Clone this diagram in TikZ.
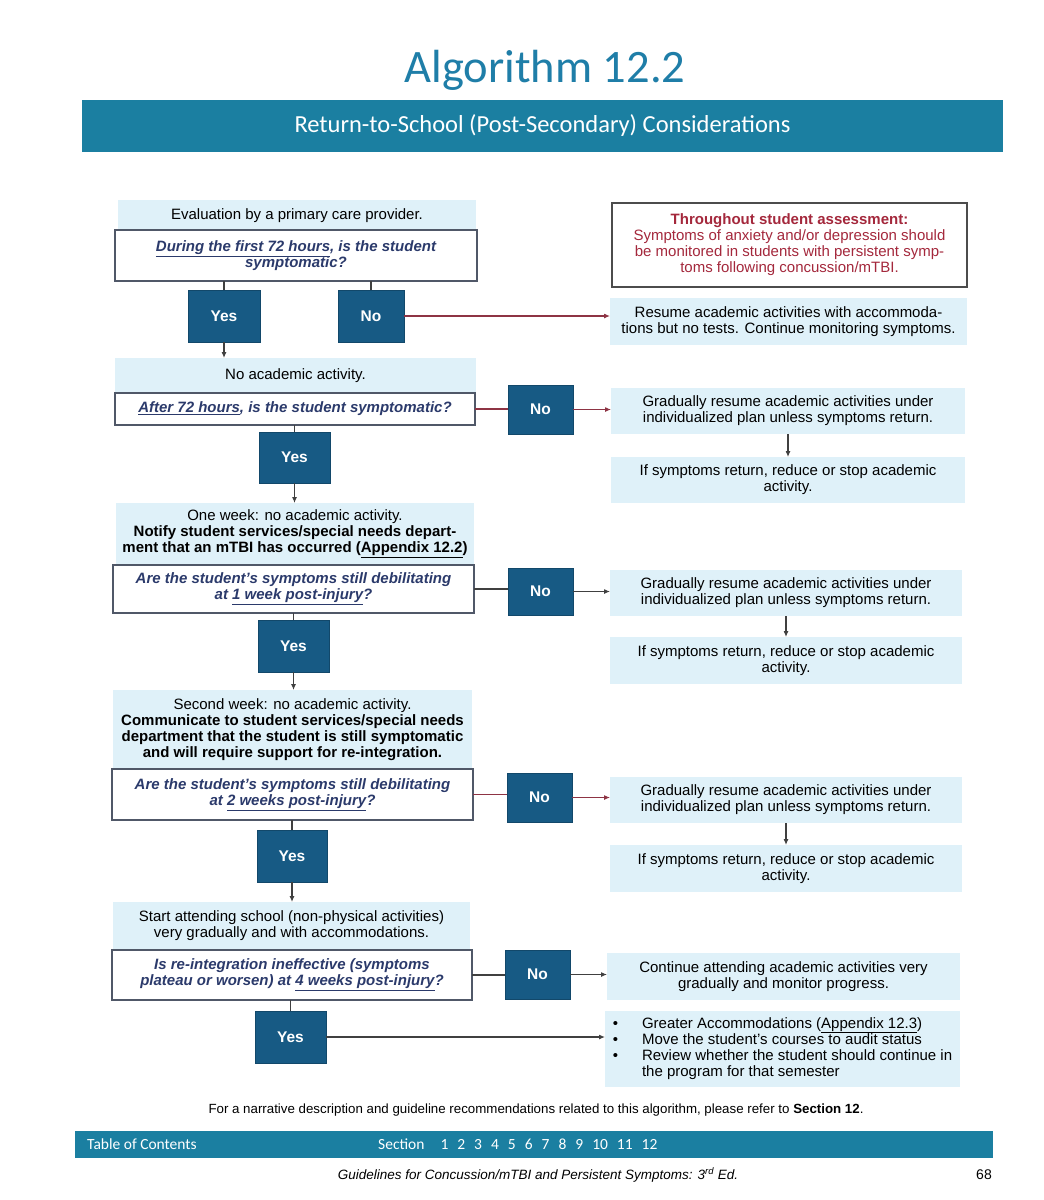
\documentclass[tikz,border=0pt]{standalone}
\usepackage{fontspec}
\setmainfont{Liberation Sans}
\newfontfamily\calfont{Carlito}
\usetikzlibrary{arrows.meta}
\definecolor{barteal}{HTML}{1B7FA1}
\definecolor{titleblue}{HTML}{1F7EA8}
\definecolor{ynblue}{HTML}{175A84}
\definecolor{lightfill}{HTML}{DFF1F9}
\definecolor{qnavy}{HTML}{2B3A6B}
\definecolor{qborder}{HTML}{505868}
\definecolor{redtext}{HTML}{A4283C}
\definecolor{lngray}{HTML}{404040}
\definecolor{lnred}{HTML}{8E3444}
\newcommand\bx[7]{\node[#2,minimum width={(#5-#3)*1pt},minimum height={(#6-#4)*1pt}] (#1) at ({(#3+#5)/2},{(#4+#6)/2}) {#7};}
\tikzset{
  base/.style={inner sep=0pt,outer sep=0pt,align=center,font=\fontsize{15}{16}\selectfont},
  lightbox/.style={base,fill=lightfill},
  qbox/.style={base,fill=white,draw=qborder,line width=1.5pt,text=qnavy,font=\fontsize{15}{16}\selectfont\bfseries\itshape},
  yn/.style={base,fill=ynblue,draw=ynblue!80!black,line width=0.8pt,text=white,font=\fontsize{15.5}{17}\selectfont\bfseries},
  rbox/.style={base,fill=lightfill},
  redbox/.style={base,fill=white,draw=black!70,line width=2pt,text=redtext},
  barbox/.style={inner sep=0pt,outer sep=0pt,fill=barteal,text=white},
  ln/.style={draw=lngray,line width=1.1pt},
  arr/.style={ln,-{Latex[length=6pt,width=5pt]}},
  redarr/.style={draw=lnred,line width=1.1pt,-{Latex[length=6pt,width=5pt]}},
  redln/.style={draw=lnred,line width=1.1pt},
}
\begin{document}
\begin{tikzpicture}[x=1pt,y=-1pt]
\useasboundingbox[fill=white] (0,0) rectangle (1044,1200);
% title and header
\node[inner sep=0pt,text=titleblue,font=\calfont\fontsize{46.5}{50}\selectfont] (title) at (545,70) {Algorithm 12.2};
\bx{bar}{barbox,font=\calfont\fontsize{24.5}{26}\selectfont}{82}{100}{1003}{152}{Return-to-School (Post-Secondary) Considerations}
% row 1
\bx{l1}{lightbox}{118}{200}{476}{232}{Evaluation by a primary care provider.}
\bx{q1}{qbox}{115}{230}{477}{281}{\underline{During the first 72 hours}, is the student\\symptomatic?}
\bx{y1}{yn}{188}{290}{260}{342}{Yes}
\bx{n1}{yn}{338}{290}{404}{342}{No}
\bx{red}{redbox}{612}{203}{967}{287}{\textbf{Throughout student assessment:}\\Symptoms of anxiety and/or depression should\\be monitored in students with persistent symp-\\toms following concussion/mTBI.}
\bx{r1}{rbox}{610}{298}{967}{345}{Resume academic activities with accommoda-\\tions but no tests. Continue monitoring symptoms.}
% row 2
\bx{l2}{lightbox}{115}{358}{476}{393}{No academic activity.}
\bx{q2}{qbox}{115}{393}{475}{425}{\underline{After 72 hours}, is the student symptomatic?}
\bx{n2}{yn}{508}{385}{573}{434}{No}
\bx{y2}{yn}{259}{432}{330}{483}{Yes}
\bx{r2a}{rbox}{611}{388}{965}{434}{Gradually resume academic activities under\\individualized plan unless symptoms return.}
\bx{r2b}{rbox}{611}{457}{965}{503}{If symptoms return, reduce or stop academic\\activity.}
% row 3
\bx{l3}{lightbox}{116}{503}{474}{565}{One week: no academic activity.\\\textbf{Notify student services/special needs depart-}\\\textbf{ment that an mTBI has occurred (\underline{Appendix 12.2})}}
\bx{q3}{qbox}{113}{565}{474}{613}{Are the student's symptoms still debilitating\\at \underline{1 week post-injury}?}
\bx{n3}{yn}{508}{568}{573}{615}{No}
\bx{y3}{yn}{258}{620}{329}{672}{Yes}
\bx{r3a}{rbox}{610}{570}{962}{616}{Gradually resume academic activities under\\individualized plan unless symptoms return.}
\bx{r3b}{rbox}{610}{637}{962}{684}{If symptoms return, reduce or stop academic\\activity.}
% row 4
\bx{l4}{lightbox}{113}{690}{472}{769}{Second week: no academic activity.\\\textbf{Communicate to student services/special needs}\\\textbf{department that the student is still symptomatic}\\\textbf{and will require support for re-integration.}}
\bx{q4}{qbox}{112}{769}{473}{820}{Are the student's symptoms still debilitating\\at \underline{2 weeks post-injury}?}
\bx{n4}{yn}{507}{773}{572}{822}{No}
\bx{y4}{yn}{257}{830}{327}{882}{Yes}
\bx{r4a}{rbox}{610}{777}{962}{823}{Gradually resume academic activities under\\individualized plan unless symptoms return.}
\bx{r4b}{rbox}{610}{845}{962}{892}{If symptoms return, reduce or stop academic\\activity.}
% row 5
\bx{l5}{lightbox}{113}{902}{470}{950}{Start attending school (non-physical activities)\\very gradually and with accommodations.}
\bx{q5}{qbox}{112}{950}{472}{1000}{Is re-integration ineffective (symptoms\\plateau or worsen) at \underline{4 weeks post-injury}?}
\bx{n5}{yn}{505}{950}{570}{999}{No}
\bx{y5}{yn}{255}{1011}{326}{1063}{Yes}
\bx{r5a}{rbox}{607}{953}{960}{1000}{Continue attending academic activities very\\gradually and monitor progress.}
\bx{r5b}{rbox}{605}{1011}{960}{1087}{\begin{tabular}{@{}l@{\hspace{24pt}}l@{}}\textbullet & Greater Accommodations (\underline{Appendix 12.3})\\ \textbullet & Move the student's courses to audit status\\ \textbullet & Review whether the student should continue in\\ & the program for that semester\end{tabular}}
% connectors row 1
\draw[ln] (q1.south -| y1.north) -- (y1.north);
\draw[ln] (q1.south -| n1.north) -- (n1.north);
\draw[arr] (y1.south) -- (y1.south |- l2.north);
\draw[redarr] (n1.east) -- (n1.east -| r1.west);
% row 2
\draw[ln] (q2.south -| y2.north) -- (y2.north);
\draw[redln] (q2.east) -- (q2.east -| n2.west);
\draw[redarr] (n2.east) -- (n2.east -| r2a.west);
\draw[arr] (y2.south) -- (y2.south |- l3.north);
\draw[arr] (r2a.south) -- (r2b.north);
% row 3
\draw[ln] (q3.south -| y3.north) -- (y3.north);
\draw[ln] (q3.east) -- (q3.east -| n3.west);
\draw[arr] (n3.east) -- (n3.east -| r3a.west);
\draw[arr] (y3.south) -- (y3.south |- l4.north);
\draw[arr] (r3a.south) -- (r3b.north);
% row 4
\draw[ln] (q4.south -| y4.north) -- (y4.north);
\draw[redln] (q4.east) -- (q4.east -| n4.west);
\draw[redarr] (n4.east) -- (n4.east -| r4a.west);
\draw[arr] (y4.south) -- (y4.south |- l5.north);
\draw[arr] (r4a.south) -- (r4b.north);
% row 5
\draw[ln] (q5.south -| y5.north) -- (y5.north);
\draw[ln] (q5.east) -- (q5.east -| n5.west);
\draw[arr] (n5.east) -- (n5.east -| r5a.west);
\draw[arr] (y5.east) -- (y5.east -| r5b.west);
% footer
\node[inner sep=0pt,font=\fontsize{13.3}{15}\selectfont] (narr) at (536,1110) {For a narrative description and guideline recommendations related to this algorithm, please refer to \textbf{Section 12}.};
\bx{bbar}{barbox}{75}{1131}{993}{1158}{}
\node[anchor=west,inner sep=0pt,text=white,font=\calfont\fontsize{15.5}{17}\selectfont] (toc) at (87,1144) {Table of Contents};
\node[anchor=west,inner sep=0pt,text=white,font=\calfont\fontsize{15.5}{17}\selectfont] (sec) at (378,1144) {Section\hspace{16pt}1\hspace{9pt}2\hspace{9pt}3\hspace{9pt}4\hspace{9pt}5\hspace{9pt}6\hspace{9pt}7\hspace{9pt}8\hspace{9pt}9\hspace{9pt}10\hspace{9pt}11\hspace{9pt}12};
\node[inner sep=0pt,font=\fontsize{13.5}{15}\selectfont\itshape] (guide) at (538,1175) {Guidelines for Concussion/mTBI and Persistent Symptoms: 3\textsuperscript{rd} Ed.};
\node[inner sep=0pt,font=\fontsize{14}{16}\selectfont] (pg) at (984,1175) {68};
\end{tikzpicture}
\end{document}
